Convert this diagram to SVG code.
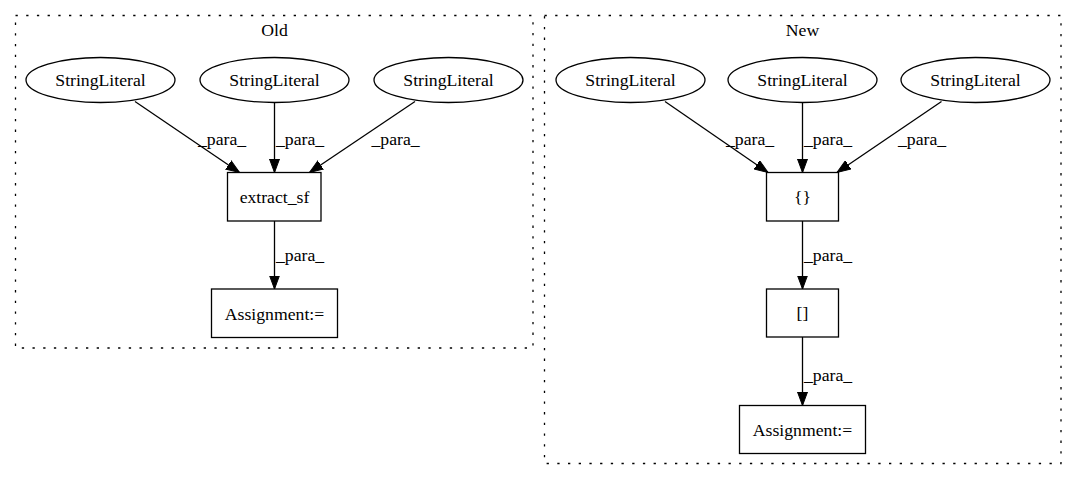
<svg xmlns="http://www.w3.org/2000/svg" width="1077" height="480" viewBox="0 0 1077 480">
<style>
  text { font-family: "Liberation Serif", "Times New Roman", serif; font-size: 17.7px; fill: #000; }
  .c { text-anchor: middle; }
  .cluster { fill: none; stroke: #000; stroke-width: 1.3; stroke-dasharray: 2.3 8.4; }
  .node { fill: #fff; stroke: #000; stroke-width: 1.3; }
  .edge { fill: none; stroke: #000; stroke-width: 1.3; marker-end: url(#arrow); }
</style>
<defs>
  <marker id="arrow" markerUnits="userSpaceOnUse" markerWidth="14" markerHeight="11" refX="13.5" refY="5" orient="auto" viewBox="0 0 14 10">
    <path d="M0,0 L13.5,5 L0,10 z" fill="#000" stroke="#000" stroke-width="1"/>
  </marker>
</defs>
<rect width="1077" height="480" fill="#fff"/>

<g id="cluster_old">
  <rect class="cluster" x="15.5" y="15.5" width="517.5" height="332.5"/>
  <text class="c" x="274.5" y="36">Old</text>
</g>
<g id="cluster_new">
  <rect class="cluster" x="544.5" y="15.5" width="516.5" height="448"/>
  <text class="c" x="802.5" y="36">New</text>
</g>

<g id="connectors">
  <line class="edge" x1="135" y1="101.5" x2="239.5" y2="172.5"/>
  <line class="edge" x1="274.5" y1="102.5" x2="274.5" y2="172.5"/>
  <line class="edge" x1="415" y1="101.5" x2="309.5" y2="172.5"/>
  <line class="edge" x1="274.5" y1="221" x2="274.5" y2="289"/>
  <line class="edge" x1="665" y1="101.5" x2="768" y2="172.5"/>
  <line class="edge" x1="802.5" y1="102.5" x2="802.5" y2="172.5"/>
  <line class="edge" x1="941.5" y1="101.5" x2="837" y2="172.5"/>
  <line class="edge" x1="802.5" y1="221" x2="802.5" y2="289"/>
  <line class="edge" x1="802.5" y1="337" x2="802.5" y2="405.5"/>
  <text x="198" y="145">_para_</text>
  <text x="276" y="145">_para_</text>
  <text x="371.5" y="145">_para_</text>
  <text x="276" y="260.5">_para_</text>
  <text x="726" y="145">_para_</text>
  <text x="804" y="145">_para_</text>
  <text x="898" y="145">_para_</text>
  <text x="804" y="260.5">_para_</text>
  <text x="804" y="380.5">_para_</text>
</g>

<g id="old_sl1"><ellipse class="node" cx="100.5" cy="80" rx="74.5" ry="22.5"/><text class="c" x="100.5" y="86">StringLiteral</text></g>
<g id="old_sl2"><ellipse class="node" cx="274.5" cy="80" rx="74.5" ry="22.5"/><text class="c" x="274.5" y="86">StringLiteral</text></g>
<g id="old_sl3"><ellipse class="node" cx="448.5" cy="80" rx="74.5" ry="22.5"/><text class="c" x="448.5" y="86">StringLiteral</text></g>
<g id="old_extract_sf"><rect class="node" x="227.5" y="172.5" width="93.5" height="48.5"/><text class="c" x="274.5" y="203">extract_sf</text></g>
<g id="old_assignment"><rect class="node" x="211.5" y="289" width="126" height="48.5"/><text class="c" x="274.5" y="319.5">Assignment:=</text></g>

<g id="new_sl1"><ellipse class="node" cx="630.5" cy="80" rx="74.5" ry="22.5"/><text class="c" x="630.5" y="86">StringLiteral</text></g>
<g id="new_sl2"><ellipse class="node" cx="802.5" cy="80" rx="74.5" ry="22.5"/><text class="c" x="802.5" y="86">StringLiteral</text></g>
<g id="new_sl3"><ellipse class="node" cx="975.5" cy="80" rx="74.5" ry="22.5"/><text class="c" x="975.5" y="86">StringLiteral</text></g>
<g id="new_braces"><rect class="node" x="766.5" y="172.5" width="72" height="48.5"/><text class="c" x="802.5" y="203">{}</text></g>
<g id="new_brackets"><rect class="node" x="766.5" y="289" width="72" height="48"/><text class="c" x="802.5" y="319">[]</text></g>
<g id="new_assignment"><rect class="node" x="739.5" y="405.5" width="126" height="48"/><text class="c" x="802.5" y="435.5">Assignment:=</text></g>
</svg>
